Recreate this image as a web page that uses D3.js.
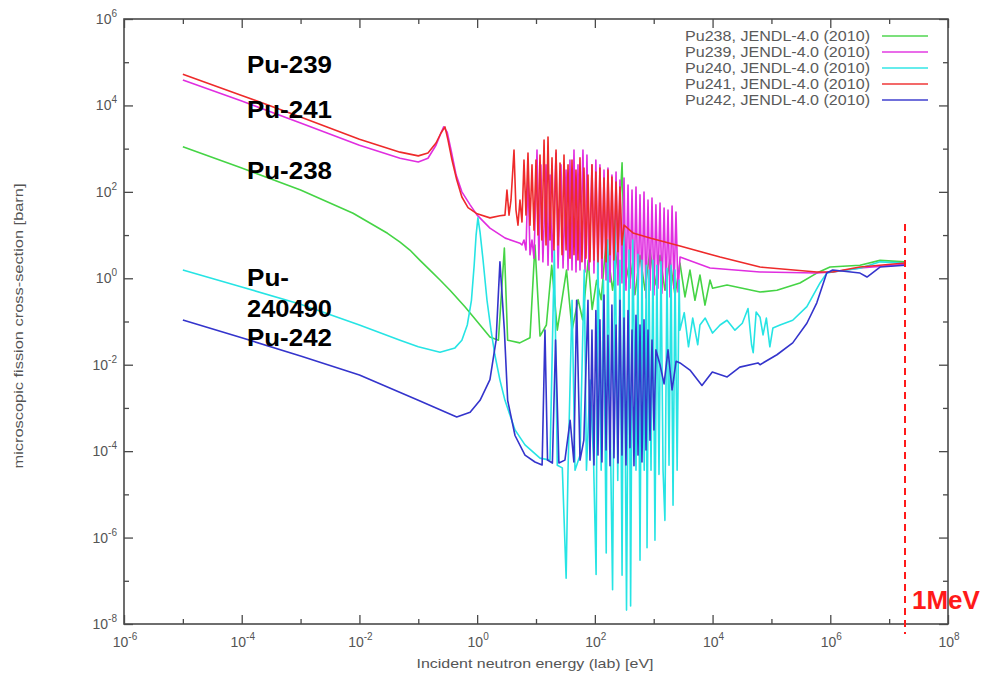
<!DOCTYPE html>
<html><head><meta charset="utf-8">
<script src="https://cdn.jsdelivr.net/npm/d3@7/dist/d3.min.js"></script>
<style>body{margin:0;background:#fff}svg{display:block}</style>
</head><body>
<svg id="chart" width="985" height="682"></svg>
<script>
// ---------------- data ----------------
const xDecades = [1e-6,1e-5,1e-4,1e-3,1e-2,1e-1,1e0,1e1,1e2,1e3,1e4,1e5,1e6,1e7,1e8];
const yDecades = [1e-8,1e-7,1e-6,1e-5,1e-4,1e-3,1e-2,1e-1,1e0,1e1,1e2,1e3,1e4,1e5,1e6];
const xLabelExps = [-6,-4,-2,0,2,4,6,8];
const yLabelExps = [-8,-6,-4,-2,0,2,4,6];
const seriesNames = ["Pu238, JENDL-4.0 (2010)","Pu239, JENDL-4.0 (2010)","Pu240, JENDL-4.0 (2010)","Pu241, JENDL-4.0 (2010)","Pu242, JENDL-4.0 (2010)"];
const seriesColors = ["#45d445","#e02ee0","#26e4e4","#ee2a2a","#3434cc"];
const annotationLabels = ["Pu-239","Pu-241","Pu-238","Pu-","240490","Pu-242"];
const markerEnergy = 1.86e7;
const markerLabel = "1MeV";
const xTitle = "Incident neutron energy (lab) [eV]";
const yTitle = "microscopic fission cross-section [barn]";

// [energy eV, cross-section barn]
const pu238 = [[1e-5,1100],[1e-4,355],[1e-3,110],[7.8e-3,32],[0.03,11],[0.049,6.9],[0.072,4.5],[0.107,2.6],[0.158,1.55],[0.234,0.91],[0.346,0.53],[0.62,0.22],[1.12,0.083],[1.65,0.044],[2.3,0.037],[2.9,5.0],[3.3,0.037],[5.3,0.032],[7.9,0.042],[9.6,5.9],[11.7,0.046],[15,0.083],[18.5,2.0],[23,0.063],[33,1.55],[41,0.063],[52,0.32],[62,0.11],[77,2.6],[90,0.19],[107,0.9],[128,0.32],[156,7.7],[200,0.53],[245,4.5],[290,470],[325,0.7],[395,2.6],[480,0.42],[585,3.4],[710,0.53],[865,4.5],[1050,0.7],[1280,3.4],[1550,0.53],[1890,2.65],[2300,0.41],[2790,2.25],[3400,0.37],[4130,1.55],[5020,0.31],[6110,1.19],[7430,0.24],[9040,0.91],[1.0e4,0.59],[1.76e4,0.70],[6.4e4,0.48],[1.24e5,0.53],[3.05e5,0.78],[5.9e5,1.32],[9.9e5,1.82],[3.2e6,2.0],[7.0e6,2.6],[1.86e7,2.4]];

const pu239 = [[1e-5,3.9e4],[1e-4,1.26e4],[1e-3,3.9e3],[1e-2,1.2e3],[0.049,600],[0.1,490],[0.146,600],[0.2,1200],[0.243,2300],[0.27,3200],[0.31,2400],[0.36,930],[0.44,245],[0.55,100],[0.76,50],[1.0,29],[1.65,14.5],[3.0,8.5],[5.34,6.5],[5.78,5.9],[6.25,7.7],[6.76,4.5],[7.31,245],[7.91,3.5],[8.55,7.7],[9.25,2.9],[10.4,930],[11.2,2.65],[12.1,420],[13.1,2.4],[14.8,420],[16.0,2.0],[17.3,245],[18.7,2.4],[21.9,790],[23.7,1.73],[26.6,420],[28.8,1.73],[32.4,320],[35,1.55],[37.8,545],[40.9,1.55],[44.2,930],[47.8,1.40],[51.7,420],[55.9,1.55],[62.8,930],[68,1.40],[73.4,710],[79.4,1.55],[89.3,420],[96.6,1.32],[104,545],[113,1.19],[122,420],[132,1.0],[143,320],[155,0.91],[167,356],[181,0.82],[195,245],[211,0.91],[229,288],[247,0.70],[267,188],[289,0.78],[313,209],[338,0.53],[366,144],[395,0.59],[428,110],[462,0.41],[500,129],[541,0.31],[585,85],[632,0.48],[684,99],[740,0.35],[800,65],[865,0.53],[935,72],[1010,0.41],[1090,50],[1180,0.59],[1280,55],[1380,0.45],[1500,42],[1620,0.53],[1750,38],[1890,0.37],[2050,47],[2210,0.59],[2390,34],[2590,0.48],[2800,3.1],[9040,1.73],[6.4e4,1.40],[5.9e5,1.32],[1.1e6,1.40],[3.2e6,1.73],[1.86e7,2.1]];

const pu240 = [[1e-5,1.55],[1e-4,0.63],[1e-3,0.25],[1e-2,0.083],[0.049,0.037],[0.1,0.026],[0.234,0.0195],[0.42,0.0245],[0.55,0.037],[0.68,0.083],[0.80,0.31],[0.89,2.0],[0.96,10],[1.03,25],[1.12,11.7],[1.26,2.65],[1.47,0.31],[1.72,0.063],[2.0,0.017],[2.44,4.4e-3],[2.97,1.5e-3],[4.4,3.1e-4],[6.5,1.4e-4],[11.7,6.9e-5],[17.3,6.2e-5],[20.5,4.5],[23,4.7e-5],[28,4.1e-5],[32.5,1.15e-7],[35,3.6e-5],[41,0.31],[46,3.6e-5],[56,8e-5],[66,1.55],[72,3.6e-5],[83,4.4e-3],[95,6.2e-5],[105,1.4e-7],[112,4.5],[128,3.6e-5],[140,0.91],[156,4.4e-7],[165,7.7],[186,6.2e-5],[200,6.2e-8],[220,22],[245,2.1e-5],[267,2.6],[290,1.35e-7],[310,13],[345,2.1e-8],[380,4.5],[405,2.6e-8],[440,7.7],[500,3.6e-5],[540,3.6],[585,3e-7],[630,2.6],[690,3.6e-5],[750,2.0],[770,5.8e-7],[830,1.55],[900,3.6e-5],[970,2.6],[1050,8.7e-7],[1130,2.0],[1230,2.9e-5],[1330,2.4],[1440,3.6e-5],[1550,2.5e-6],[1680,1.7],[1820,4.7e-5],[1970,2.0],[2130,5.6e-6],[2300,1.55],[2500,3.6e-5],[2700,0.91],[2790,0.063],[3300,0.16],[3900,0.026],[4600,0.12],[5600,0.029],[6100,0.083],[7500,0.12],[1.0e4,0.054],[1.34e4,0.083],[1.76e4,0.107],[2.4e4,0.063],[3.2e4,0.091],[4.0e4,0.2],[4.6e4,0.029],[4.9e4,0.019],[5.5e4,0.166],[6.4e4,0.126],[7.2e4,0.049],[8.2e4,0.12],[9.4e4,0.026],[1.06e5,0.071],[1.4e5,0.083],[2.3e5,0.107],[4.0e5,0.22],[6.7e5,0.78],[8.7e5,1.32],[1.1e6,1.4],[3.2e6,1.7],[7e6,2.4],[1.86e7,2.25]];

const pu241 = [[1e-5,5.3e4],[1e-4,1.7e4],[1e-3,5.4e3],[1e-2,1.65e3],[0.049,830],[0.1,680],[0.146,790],[0.2,1350],[0.243,2300],[0.284,3200],[0.32,1580],[0.374,545],[0.45,190],[0.55,76],[0.70,43],[1.0,31],[1.65,25],[2.44,28],[2.97,29],[3.21,110],[3.48,29],[3.76,65],[4.23,930],[4.57,38],[4.94,17],[5.34,65],[5.78,20],[6.25,545],[6.76,29],[7.31,790],[7.91,17],[8.55,420],[9.25,13],[10.0,545],[10.8,10],[11.7,710],[12.6,7.7],[13.7,1580],[14.8,5.9],[16.0,1860],[17.3,7.7],[18.7,610],[20.2,4.5],[21.9,930],[23.7,5.9],[25.6,465],[27.7,3.5],[29.9,710],[32.4,4.5],[35.0,420],[37.8,2.9],[40.9,545],[44.2,3.5],[47.8,320],[51.7,2.65],[55.9,610],[60.4,2.4],[65.3,356],[70.6,2.9],[76.4,245],[82.6,2.4],[89.3,420],[96.6,2.65],[104,288],[113,2.4],[122,356],[132,2.9],[143,209],[155,2.4],[167,320],[181,3.5],[195,220],[211,2.65],[229,169],[247,4.1],[267,129],[289,5.9],[313,17],[445,11.2],[865,8.6],[2800,5.6],[1.34e4,3.1],[6.4e4,1.82],[5.9e5,1.4],[1.1e6,1.4],[3.2e6,1.82],[1.86e7,2.25]];

const pu242 = [[1e-5,0.108],[1e-4,0.042],[1e-3,0.016],[1e-2,5.8e-3],[0.1,1.5e-3],[0.45,6.2e-4],[0.76,7.9e-4],[1.12,1.5e-3],[1.65,4.5e-3],[2.1,0.037],[2.44,2.4],[2.9,0.063],[3.3,1.5e-3],[4.4,2.3e-4],[6.5,8.1e-5],[9.6,5.6e-5],[12.7,4.8e-5],[14.2,0.063],[15.7,6.2e-5],[19,5.3e-5],[21.5,0.037],[24.5,5.3e-5],[31,6.2e-5],[38,5.2e-4],[44,5.6e-5],[49,0.31],[56,6.2e-5],[65,1.8e-4],[76.4,0.31],[82.6,6.2e-5],[89.3,0.063],[96.6,4.8e-5],[104,0.18],[113,8.1e-5],[122,0.11],[132,5.6e-5],[143,0.41],[155,1.06e-4],[167,0.048],[181,4.6e-5],[195,0.24],[211,7e-5],[229,0.083],[247,5.3e-5],[267,0.31],[289,8.1e-5],[313,0.12],[338,4.8e-5],[366,0.18],[395,1.2e-4],[428,0.063],[462,4.6e-5],[500,0.14],[541,8.1e-5],[585,0.083],[632,5.6e-5],[684,0.11],[740,1.06e-4],[800,0.063],[865,1.8e-4],[935,0.037],[1010,3.1e-4],[1090,0.022],[1280,0.01],[1500,3.6e-3],[1750,0.022],[2050,2.6e-3],[2400,0.012],[2800,0.011],[4130,7.5e-3],[6600,3.3e-3],[9900,6.8e-3],[1.77e4,5.2e-3],[2.9e4,8.8e-3],[5.9e4,0.011],[6.4e4,0.01],[1.24e5,0.017],[2.3e5,0.032],[4.0e5,0.091],[5.9e5,0.27],[8.7e5,1.32],[1.1e6,1.55],[3.2e6,1.32],[4.2e6,1.07],[7e6,1.82],[1.86e7,2.0]];

const seriesData = [pu238, pu239, pu240, pu241, pu242];

// ---------------- layout ----------------
const L = 124, R = 948, T = 19, B = 624;
const svg = d3.select("#chart");
const x = d3.scaleLog().domain([1e-6, 1e8]).range([L, R]);
const y = d3.scaleLog().domain([1e-8, 1e6]).range([B, T]);
const grey = "#555", frame = "#4a4a4a";
const font = "'Liberation Sans', Arial, sans-serif";

svg.append("defs").append("clipPath").attr("id","plotclip")
  .append("rect").attr("x",L).attr("y",T).attr("width",R-L).attr("height",B-T);

// series
const line = d3.line().x(d => x(d[0])).y(d => y(d[1]));
const plot = svg.append("g").attr("clip-path","url(#plotclip)");
seriesData.forEach((s,i) => {
  plot.append("path").datum(s).attr("d", line)
    .attr("fill","none").attr("stroke", seriesColors[i])
    .attr("stroke-width",1.6).attr("stroke-linejoin","round");
});

// axes (ticks inward, mirrored)
const isMajor = v => Math.round(Math.log10(v)) % 2 === 0;
function styleAxis(g) {
  g.select(".domain").remove();
  g.selectAll(".tick line").attr("stroke", frame).attr("stroke-width",1.3);
  g.selectAll(".tick text").remove();
}
const axB = svg.append("g").attr("transform",`translate(0,${B})`)
  .call(d3.axisBottom(x).tickValues(xDecades).tickSizeOuter(0).tickSizeInner(-9));
axB.selectAll(".tick line").attr("y2", d => isMajor(d) ? -9 : -5);
styleAxis(axB);
const axT = svg.append("g").attr("transform",`translate(0,${T})`)
  .call(d3.axisTop(x).tickValues(xDecades).tickSizeOuter(0).tickSizeInner(-9));
axT.selectAll(".tick line").attr("y2", d => isMajor(d) ? 9 : 5);
styleAxis(axT);
const axLft = svg.append("g").attr("transform",`translate(${L},0)`)
  .call(d3.axisLeft(y).tickValues(yDecades).tickSizeOuter(0).tickSizeInner(-9));
axLft.selectAll(".tick line").attr("x2", d => isMajor(d) ? 9 : 5);
styleAxis(axLft);
const axRgt = svg.append("g").attr("transform",`translate(${R},0)`)
  .call(d3.axisRight(y).tickValues(yDecades).tickSizeOuter(0).tickSizeInner(-9));
axRgt.selectAll(".tick line").attr("x2", d => isMajor(d) ? -9 : -5);
styleAxis(axRgt);

svg.append("rect").attr("x",L).attr("y",T).attr("width",R-L).attr("height",B-T)
  .attr("fill","none").attr("stroke",frame).attr("stroke-width",1.6);

// tick labels with superscripts
function powLabel(sel, exp) {
  sel.append("tspan").text("10");
  sel.append("tspan").attr("dy",-7).attr("font-size",10).text(exp);
}
xLabelExps.forEach(e => {
  const t = svg.append("text").attr("x", x(Math.pow(10,e)) + 1).attr("y", 647)
    .attr("text-anchor","middle").attr("font-family",font).attr("font-size",14).attr("fill",grey);
  powLabel(t, e);
});
yLabelExps.forEach(e => {
  const t = svg.append("text").attr("x", 117).attr("y", y(Math.pow(10,e)) + 5)
    .attr("text-anchor","end").attr("font-family",font).attr("font-size",14).attr("fill",grey);
  powLabel(t, e);
});

// axis titles
svg.append("text").attr("x",(L+R)/2 - 1).attr("y",668).attr("text-anchor","middle")
  .attr("font-family",font).attr("font-size",13.5).attr("fill",grey)
  .attr("textLength",237).attr("lengthAdjust","spacingAndGlyphs").text(xTitle);
svg.append("text").attr("transform","translate(23,326) rotate(-90)").attr("text-anchor","middle")
  .attr("font-family",font).attr("font-size",13).attr("fill",grey)
  .attr("textLength",285).attr("lengthAdjust","spacingAndGlyphs").text(yTitle);

// legend
seriesNames.forEach((n,i) => {
  const cy = 36 + 16*i;
  svg.append("text").attr("x",870).attr("y",cy+5).attr("text-anchor","end")
    .attr("font-family",font).attr("font-size",14).attr("fill","#5a5a5a")
    .attr("textLength",185).attr("lengthAdjust","spacingAndGlyphs").text(n);
  svg.append("line").attr("x1",882).attr("x2",928).attr("y1",cy).attr("y2",cy)
    .attr("stroke",seriesColors[i]).attr("stroke-width",1.8).attr("opacity",0.7);
});

// annotations
const annY = [73, 118, 179, 286, 317, 346];
annotationLabels.forEach((s,i) => {
  svg.append("text").attr("x",247).attr("y",annY[i])
    .attr("font-family",font).attr("font-weight","bold").attr("font-size",23).attr("fill","#000")
    .attr("textLength", s.length === 3 ? 42 : 85).attr("lengthAdjust","spacingAndGlyphs").text(s);
});

// 1 MeV marker
const mx = x(markerEnergy);
svg.append("line").attr("x1",mx).attr("x2",mx).attr("y1",224).attr("y2",634)
  .attr("stroke","#ff1a1a").attr("stroke-width",2).attr("stroke-dasharray","7,5");
svg.append("text").attr("x",mx+7).attr("y",609).attr("font-family",font).attr("font-weight","bold")
  .attr("font-size",26).attr("fill","#ff1a1a").text(markerLabel);
</script>
</body></html>
